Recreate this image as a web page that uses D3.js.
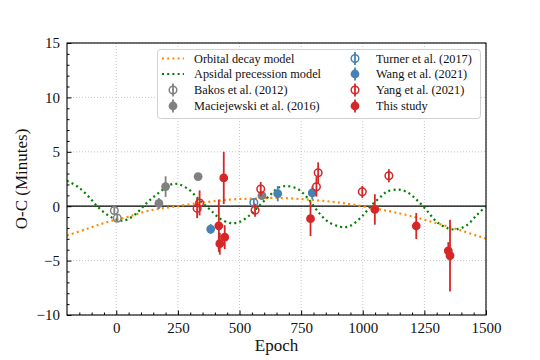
<!DOCTYPE html>
<html>
<head>
<meta charset="utf-8">
<script src="https://d3js.org/d3.v7.min.js"></script>
<style>
body { margin: 0; background: white; }
text { font-family: "Liberation Serif", "DejaVu Serif", serif; fill: #111; }
</style>
</head>
<body>
<svg width="540" height="360"></svg>
<script>
// model curves
const decayEpoch = [-200, -115, -34, 47, 128, 230, 352, 460, 555, 650, 778, 914, 1049, 1151, 1232, 1313, 1394, 1475, 1500];
const decayOC    = [-2.7, -2.05, -1.44, -0.98, -0.43, -0.06, 0.34, 0.61, 0.70, 0.76, 0.61, 0.30, -0.21, -0.67, -1.13, -1.65, -2.2, -2.8, -2.98];

const apsEpoch = [-200, -156, -115, -75, -34, 7, 27, 47, 88, 128, 169, 216, 237, 257, 298, 338, 379, 420, 460, 474, 501, 541, 582, 623, 656, 690, 738, 778, 819, 860, 907, 930, 954, 995, 1036, 1077, 1097, 1140, 1178, 1218, 1259, 1300, 1347, 1381, 1422, 1462, 1500];
const apsOC    = [2.35, 1.78, 0.95, -0.06, -0.83, -1.29, -1.32, -1.2, -0.52, 0.4, 1.17, 1.93, 2.06, 1.99, 1.47, 0.55, -0.28, -1.13, -1.53, -1.56, -1.44, -0.83, 0.09, 1.0, 1.68, 1.85, 1.56, 0.7, -0.52, -1.44, -1.88, -1.92, -1.75, -0.98, 0.09, 0.95, 1.32, 1.53, 1.32, 0.61, -0.37, -1.44, -2.05, -2.12, -1.75, -0.83, 0.0];

// observations
const bakosEpoch = [-8, 4];
const bakosOC    = [-0.4, -1.1];
const bakosErr   = [0.3, 0.3];

const maciEpoch = [173, 200, 332, 591];
const maciOC    = [0.25, 1.8, 2.72, 0.97];
const maciErr   = [0.5, 0.95, 0.3, 0.4];

const turnerEpoch = [558];
const turnerOC    = [0.34];
const turnerErr   = [0.4];

const wangEpoch = [383, 655, 795];
const wangOC    = [-2.1, 1.15, 1.22];
const wangErr   = [0.45, 0.7, 0.6];

const yangEpoch = [328, 338, 563, 586, 812, 819, 998, 1106];
const yangOC    = [-0.2, 0.3, -0.37, 1.58, 1.78, 3.08, 1.32, 2.8];
const yangErr   = [0.9, 1.15, 0.6, 0.65, 0.9, 0.95, 0.55, 0.6];

const thisEpoch = [416, 420, 436, 440, 788, 1049, 1217, 1347, 1354];
const thisOC    = [-1.8, -3.45, 2.6, -2.85, -1.15, -0.3, -1.82, -4.1, -4.55];
const thisErr   = [2.4, 1.0, 2.4, 1.1, 1.6, 1.4, 1.2, 0.8, 3.3];

const xTicks = [0, 250, 500, 750, 1000, 1250, 1500];
const yTicks = [-10, -5, 0, 5, 10, 15];

const svg = d3.select("svg");
const pLeft = 67, pRight = 486, pTop = 43, pBottom = 315;

const x = d3.scaleLinear().domain([-200, 1500]).range([pLeft, pRight]);
const y = d3.scaleLinear().domain([-10, 15]).range([pBottom, pTop]);

svg.append("defs").append("clipPath").attr("id", "clip")
  .append("rect").attr("x", pLeft).attr("y", pTop).attr("width", pRight - pLeft).attr("height", pBottom - pTop);

// grid
const grid = svg.append("g");
grid.selectAll(".gx").data(xTicks).enter().append("line")
  .attr("x1", d => x(d)).attr("x2", d => x(d)).attr("y1", pTop).attr("y2", pBottom)
  .attr("stroke", "#b8b8b8").attr("stroke-width", 0.8).attr("stroke-dasharray", "1,2");
grid.selectAll(".gy").data(yTicks).enter().append("line")
  .attr("y1", d => y(d)).attr("y2", d => y(d)).attr("x1", pLeft).attr("x2", pRight)
  .attr("stroke", "#b8b8b8").attr("stroke-width", 0.8).attr("stroke-dasharray", "1,2");

const plot = svg.append("g").attr("clip-path", "url(#clip)");

plot.append("line")
  .attr("x1", pLeft).attr("x2", pRight).attr("y1", y(0)).attr("y2", y(0))
  .attr("stroke", "black").attr("stroke-width", 1.3);

const line = d3.line().x(d => x(d[0])).y(d => y(d[1])).curve(d3.curveCatmullRom);

plot.append("path")
  .datum(decayEpoch.map((e, i) => [e, decayOC[i]]))
  .attr("d", line).attr("fill", "none")
  .attr("stroke", "darkorange").attr("stroke-width", 2.2).attr("stroke-dasharray", "2,3.2");

plot.append("path")
  .datum(apsEpoch.map((e, i) => [e, apsOC[i]]))
  .attr("d", line).attr("fill", "none")
  .attr("stroke", "green").attr("stroke-width", 2.2).attr("stroke-dasharray", "2,3.2");

const series = [
  {name: "Bakos et al. (2012)", ep: bakosEpoch, oc: bakosOC, err: bakosErr, color: "gray", open: true},
  {name: "Maciejewski et al. (2016)", ep: maciEpoch, oc: maciOC, err: maciErr, color: "gray", open: false},
  {name: "Turner et al. (2017)", ep: turnerEpoch, oc: turnerOC, err: turnerErr, color: "steelblue", open: true},
  {name: "Wang et al. (2021)", ep: wangEpoch, oc: wangOC, err: wangErr, color: "steelblue", open: false},
  {name: "Yang et al. (2021)", ep: yangEpoch, oc: yangOC, err: yangErr, color: "#d62728", open: true},
  {name: "This study", ep: thisEpoch, oc: thisOC, err: thisErr, color: "#d62728", open: false}
];

function marker(g, cx, cy, s) {
  if (s.open) {
    g.append("circle").attr("cx", cx).attr("cy", cy).attr("r", 3.8)
      .attr("fill", "none").attr("stroke", s.color).attr("stroke-width", 1.5);
  } else {
    g.append("circle").attr("cx", cx).attr("cy", cy).attr("r", 4.4).attr("fill", s.color);
  }
}

series.forEach(s => {
  const g = plot.append("g");
  s.ep.forEach((e, i) => {
    g.append("line")
      .attr("x1", x(e)).attr("x2", x(e))
      .attr("y1", y(s.oc[i] - s.err[i])).attr("y2", y(s.oc[i] + s.err[i]))
      .attr("stroke", s.color).attr("stroke-width", 1.8);
    marker(g, x(e), y(s.oc[i]), s);
  });
});

// axes
const xAxis = svg.append("g").attr("transform", `translate(0,${pBottom})`)
  .call(d3.axisBottom(x).tickValues(xTicks).tickFormat(d3.format("d")).tickSize(-4.5).tickPadding(7));
const xMinor = svg.append("g").attr("transform", `translate(0,${pBottom})`)
  .call(d3.axisBottom(x).tickValues(d3.range(-150, 1500, 50).filter(v => v % 250 !== 0)).tickFormat("").tickSize(-2.5));
const yAxis = svg.append("g").attr("transform", `translate(${pLeft},0)`)
  .call(d3.axisLeft(y).tickValues(yTicks).tickSize(-4.5).tickPadding(7));
const yMinor = svg.append("g").attr("transform", `translate(${pLeft},0)`)
  .call(d3.axisLeft(y).tickValues(d3.range(-9, 15, 1).filter(v => v % 5 !== 0)).tickFormat("").tickSize(-2.5));

[xAxis, xMinor, yAxis, yMinor].forEach(a => {
  a.select(".domain").remove();
  a.selectAll("text").style("font-family", "Liberation Serif").style("font-size", "15px").attr("fill", "#111");
  a.selectAll("line").attr("stroke", "black");
});

svg.append("rect").attr("x", pLeft).attr("y", pTop).attr("width", pRight - pLeft).attr("height", pBottom - pTop)
  .attr("fill", "none").attr("stroke", "black").attr("stroke-width", 1.1);

svg.append("text").attr("x", (pLeft + pRight) / 2).attr("y", 351)
  .attr("text-anchor", "middle").style("font-size", "17px").text("Epoch");
svg.append("text").attr("transform", `translate(27,${(pTop + pBottom) / 2}) rotate(-90)`)
  .attr("text-anchor", "middle").style("font-size", "17px").text("O-C (Minutes)");

// legend
const leg = svg.append("g");
leg.append("rect").attr("x", 157.5).attr("y", 49.5).attr("width", 323).attr("height", 69).attr("rx", 3)
  .attr("fill", "white").attr("fill-opacity", 0.85).attr("stroke", "#d0d0d0").attr("stroke-width", 1);

const rowY = [58.5, 74, 90, 106];
const legendItems = [
  {name: "Orbital decay model", color: "darkorange", type: "line"},
  {name: "Apsidal precession model", color: "green", type: "line"},
  series[0], series[1], series[2], series[3], series[4], series[5]
];
legendItems.forEach((item, i) => {
  const col = i < 4 ? 0 : 1;
  const ry = rowY[i % 4];
  const hx = col === 0 ? 173 : 355;
  const tx = col === 0 ? 194 : 376;
  if (item.type === "line") {
    leg.append("line").attr("x1", hx - 11).attr("x2", hx + 11).attr("y1", ry).attr("y2", ry)
      .attr("stroke", item.color).attr("stroke-width", 2.2).attr("stroke-dasharray", "2,3.2");
  } else {
    leg.append("line").attr("x1", hx).attr("x2", hx).attr("y1", ry - 6.5).attr("y2", ry + 6.5)
      .attr("stroke", item.color).attr("stroke-width", 1.8);
    marker(leg, hx, ry, item);
  }
  leg.append("text").attr("x", tx).attr("y", ry + 4.2).style("font-size", "12.3px").text(item.name);
});
</script>
</body>
</html>
